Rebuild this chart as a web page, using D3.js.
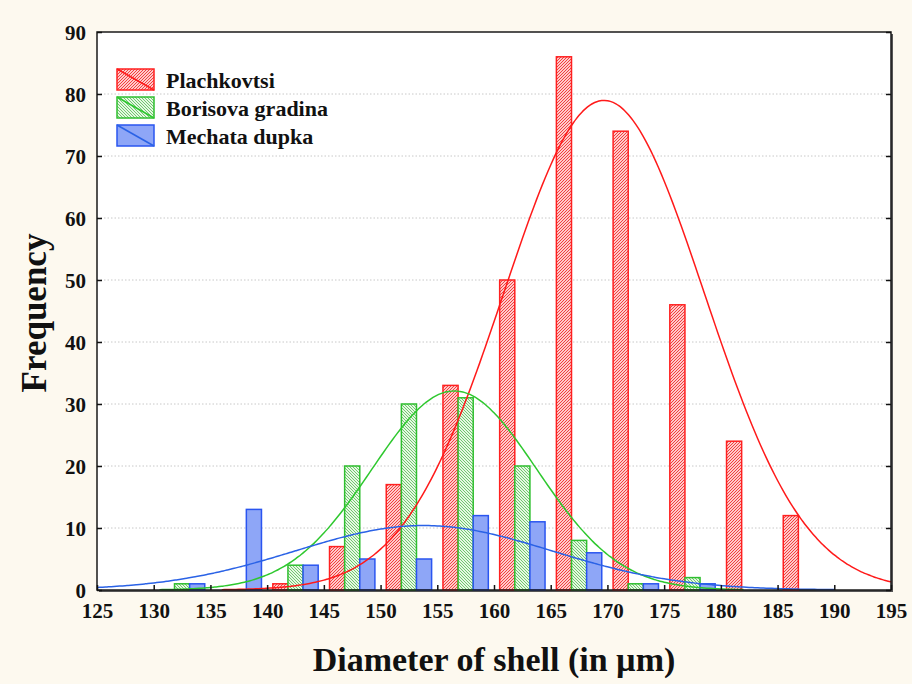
<!DOCTYPE html>
<html>
<head>
<meta charset="utf-8">
<script src="https://cdn.jsdelivr.net/npm/d3@7"></script>
<style>
  html, body { margin: 0; padding: 0; background: #fdf9ef; }
  svg { display: block; }
  text { font-family: "Liberation Serif", "Times New Roman", serif; font-weight: bold; fill: #111; }
</style>
</head>
<body>
<div id="chart"></div>
<script>
const binStarts = [130, 135, 140, 145, 150, 155, 160, 165, 170, 175, 180, 185]
const plachkovtsi = [0, 0, 1, 7, 17, 33, 50, 86, 74, 46, 24, 12]
const borisova = [1, 0, 4, 20, 30, 31, 20, 8, 1, 2, 0, 0]
const mechata = [1, 13, 4, 5, 5, 12, 11, 6, 1, 1, 0, 0]

const seriesNames = ['Plachkovtsi', 'Borisova gradina', 'Mechata dupka']
// fitted normal curves: mean, sd, range drawn
const fitMean = [169.7, 156.5, 153.8]
const fitSd = [8.84, 7.27, 11.32]
const fitRange = [[136, 195], [130.5, 182], [125, 190]]

const xTicks = [125, 130, 135, 140, 145, 150, 155, 160, 165, 170, 175, 180, 185, 190, 195]
const yTicks = [0, 10, 20, 30, 40, 50, 60, 70, 80, 90]

const w = 912
const h = 684
const pLeft = 97, pTop = 32, pRight = 891, pBottom = 590
const binWidth = 5

const colors = ['#ff2020', '#2fbf2f', '#2a55f0']
const lineColors = ['#ff1a1a', '#2ec82e', '#2a62e6']

const counts = [plachkovtsi, borisova, mechata]

const x = d3.scaleLinear().domain([125, 195]).range([pLeft, pRight])
const y = d3.scaleLinear().domain([0, 90]).range([pBottom, pTop])
const inner = d3.scaleBand().domain([0, 1, 2]).range([0, x(125 + binWidth * 0.8) - x(125)])

const svg = d3.select('#chart')
  .append('svg')
  .attr('width', w)
  .attr('height', h)

const defs = svg.append('defs')

// hatch patterns
const redPat = defs.append('pattern').attr('id', 'hatch0')
  .attr('patternUnits', 'userSpaceOnUse').attr('width', 3).attr('height', 3)
redPat.append('rect').attr('width', 3).attr('height', 3).attr('fill', '#ffcaca')
redPat.append('path').attr('d', 'M0,3 L3,0 M-1,1 L1,-1 M2,4 L4,2')
  .attr('stroke', '#f04040').attr('stroke-width', 1)

const greenPat = defs.append('pattern').attr('id', 'hatch1')
  .attr('patternUnits', 'userSpaceOnUse').attr('width', 3).attr('height', 3)
greenPat.append('rect').attr('width', 3).attr('height', 3).attr('fill', '#e6f7e2')
greenPat.append('path').attr('d', 'M0,0 L3,3 M-1,2 L1,4 M2,-1 L4,1')
  .attr('stroke', '#62c262').attr('stroke-width', 0.9)

const bluePat = defs.append('pattern').attr('id', 'hatch2')
  .attr('patternUnits', 'userSpaceOnUse').attr('width', 3).attr('height', 3)
bluePat.append('rect').attr('width', 3).attr('height', 3).attr('fill', '#8ea6f7')

// plot area with shadow
svg.append('rect')
  .attr('x', pLeft + 2).attr('y', pTop + 2)
  .attr('width', pRight - pLeft).attr('height', pBottom - pTop)
  .attr('fill', '#555')
svg.append('rect')
  .attr('x', pLeft).attr('y', pTop)
  .attr('width', pRight - pLeft).attr('height', pBottom - pTop)
  .attr('fill', '#fff')

// grid
svg.append('g')
  .selectAll('line')
  .data(yTicks.filter(d => d > 0 && d < 90))
  .enter()
  .append('line')
  .attr('x1', pLeft).attr('x2', pRight)
  .attr('y1', d => y(d)).attr('y2', d => y(d))
  .attr('stroke', '#c8c8c8')
  .attr('stroke-width', 1)
  .attr('stroke-dasharray', '1.5,2')

// bars
counts.forEach((vals, i) => {
  svg.append('g')
    .selectAll('rect')
    .data(binStarts.map((b, j) => ({ b: b, v: vals[j] })).filter(d => d.v > 0))
    .enter()
    .append('rect')
    .attr('x', d => x(d.b + 0.5) + inner(i))
    .attr('y', d => y(d.v))
    .attr('width', inner.bandwidth())
    .attr('height', d => y(0) - y(d.v))
    .attr('fill', `url(#hatch${i})`)
    .attr('stroke', colors[i])
    .attr('stroke-width', 1.5)
})

// fitted curves
const line = d3.line().x(d => x(d[0])).y(d => y(d[1])).curve(d3.curveBasis)
counts.forEach((vals, i) => {
  const n = d3.sum(vals)
  const mu = fitMean[i], sd = fitSd[i]
  const pts = d3.range(fitRange[i][0], fitRange[i][1] + 0.001, 0.25).map(t => {
    const z = (t - mu) / sd
    return [t, n * binWidth / (sd * Math.sqrt(2 * Math.PI)) * Math.exp(-0.5 * z * z)]
  })
  svg.append('path')
    .datum(pts)
    .attr('d', line)
    .attr('fill', 'none')
    .attr('stroke', lineColors[i])
    .attr('stroke-width', 1.5)
})

// frame
svg.append('rect')
  .attr('x', pLeft).attr('y', pTop)
  .attr('width', pRight - pLeft).attr('height', pBottom - pTop)
  .attr('fill', 'none')
  .attr('stroke', '#1a1a1a')
  .attr('stroke-width', 1.5)

// axes
const xAxis = d3.axisBottom(x).tickValues(xTicks).tickSize(-5).tickPadding(13)
const yAxis = d3.axisLeft(y).tickValues(yTicks).tickSize(-5).tickPadding(11)
const yAxisR = d3.axisRight(y).tickValues(yTicks).tickSize(-5).tickFormat('')

const gx = svg.append('g')
  .attr('transform', `translate(0, ${pBottom})`)
  .call(xAxis)
const gy = svg.append('g')
  .attr('transform', `translate(${pLeft}, 0)`)
  .call(yAxis)
const gyr = svg.append('g')
  .attr('transform', `translate(${pRight}, 0)`)
  .call(yAxisR)

;[gx, gy, gyr].forEach(g => {
  g.select('.domain').remove()
  g.selectAll('line').attr('stroke', '#111').attr('stroke-width', 1.5)
  g.selectAll('text')
    .style('font-family', '"Liberation Serif", serif')
    .style('font-weight', 'bold')
    .style('font-size', '21px')
    .attr('fill', '#111')
})
gy.selectAll('text').attr('dy', '0.34em')

// axis titles
svg.append('text')
  .attr('x', 494)
  .attr('y', 671)
  .attr('text-anchor', 'middle')
  .style('font-size', '34px')
  .text('Diameter of shell (in µm)')

svg.append('text')
  .attr('transform', `translate(46, ${313}) rotate(-90)`)
  .attr('text-anchor', 'middle')
  .style('font-size', '35px')
  .text('Frequency')

// legend
const legend = svg.append('g')
  .attr('transform', 'translate(117, 69)')

const item = legend.selectAll('g')
  .data(seriesNames)
  .enter()
  .append('g')
  .attr('transform', (d, i) => `translate(0, ${i * 28})`)

item.append('rect')
  .attr('width', 37).attr('height', 21)
  .attr('fill', (d, i) => `url(#hatch${i})`)
  .attr('stroke', (d, i) => colors[i])
  .attr('stroke-width', 1.5)

item.append('line')
  .attr('x1', 0).attr('y1', 0).attr('x2', 37).attr('y2', 21)
  .attr('stroke', (d, i) => lineColors[i])
  .attr('stroke-width', 1.5)

item.append('text')
  .attr('x', 49)
  .attr('y', 19)
  .style('font-size', '22px')
  .text(d => d)
</script>
</body>
</html>
